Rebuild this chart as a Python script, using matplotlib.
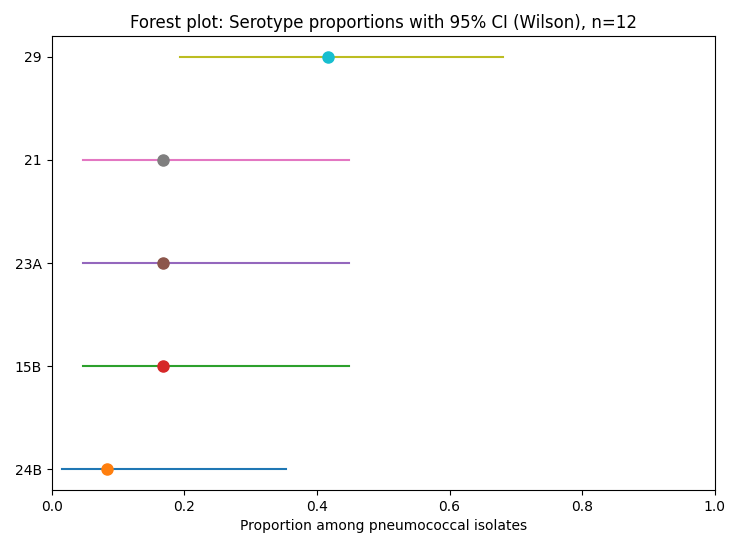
import matplotlib
matplotlib.use("Agg")
import matplotlib.pyplot as plt

# Serotype proportions (n=12) with Wilson 95% CI
serotypes = ["24B", "15B", "23A", "21", "29"]
proportions = [0.083, 0.167, 0.167, 0.167, 0.417]
ci_low = [0.015, 0.047, 0.047, 0.047, 0.193]
ci_high = [0.354, 0.448, 0.448, 0.448, 0.680]

fig, ax = plt.subplots(figsize=(7.3, 5.47), dpi=100)

for i, name in enumerate(serotypes):
    ax.plot([ci_low[i], ci_high[i]], [i, i])
    ax.plot(proportions[i], i, "o", markersize=8)

ax.set_yticks(range(len(serotypes)))
ax.set_yticklabels(serotypes)
ax.set_xlim(0, 1)
ax.set_xlabel("Proportion among pneumococcal isolates")
ax.set_title("Forest plot: Serotype proportions with 95% CI (Wilson), n=12")

plt.subplots_adjust(left=0.071, right=0.979, top=0.934, bottom=0.104)
plt.savefig("out.png", dpi=100)
